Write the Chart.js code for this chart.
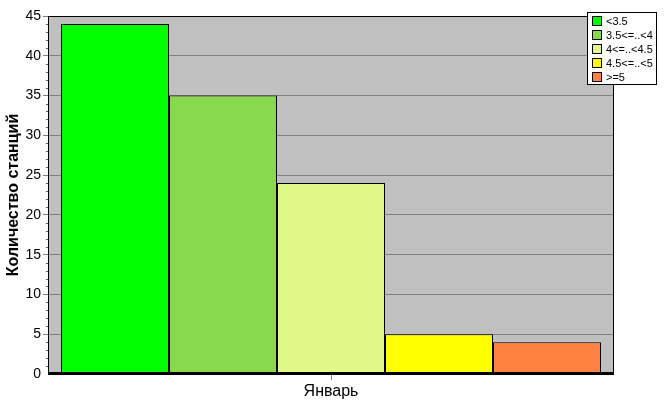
<!DOCTYPE html>
<html>
<head>
<meta charset="utf-8">
<script src="https://cdn.jsdelivr.net/npm/chart.js@4/dist/chart.umd.min.js"></script>
<style>
  html, body { margin: 0; padding: 0; background: #fff; }
  #wrap { width: 667px; height: 415px; }
</style>
</head>
<body>
<div id="wrap"><canvas id="chart" width="667" height="415"></canvas></div>
<script>
const categories = ['Январь']
const seriesNames = ['<3.5', '3.5<=..<4', '4<=..<4.5', '4.5<=..<5', '>=5']
const seriesValues = [44, 35, 24, 5, 4]
const seriesColors = ['#00ff00', '#88d94e', '#e0f888', '#ffff00', '#ff8040']
const yTicks = { min: 0, max: 45, step: 5 }

const FONT = 'Arial, "Liberation Sans", sans-serif'

// grey plot background + black frame, minor ticks on the y axis
const plotFrame = {
  id: 'plotFrame',
  beforeDraw(chart) {
    const { ctx, chartArea: a } = chart
    ctx.save()
    ctx.fillStyle = '#c0c0c0'
    ctx.fillRect(a.left, a.top, a.right - a.left, a.bottom - a.top)
    ctx.restore()
  },
  afterDatasetsDraw(chart) {
    const { ctx, chartArea: a, scales } = chart
    ctx.save()
    ctx.strokeStyle = '#000'
    ctx.lineWidth = 1
    ctx.beginPath()
    ctx.moveTo(a.left + 0.5, a.bottom)
    ctx.lineTo(a.left + 0.5, a.top + 0.5)
    ctx.lineTo(a.right - 0.5, a.top + 0.5)
    ctx.lineTo(a.right - 0.5, a.bottom)
    ctx.stroke()
    ctx.lineWidth = 3
    ctx.beginPath()
    ctx.moveTo(a.left, a.bottom - 0.5)
    ctx.lineTo(a.right, a.bottom - 0.5)
    ctx.stroke()
    // minor ticks
    ctx.strokeStyle = '#606060'
    ctx.lineWidth = 1
    for (let v = yTicks.min; v <= yTicks.max; v++) {
      if (v % yTicks.step === 0) continue
      const y = Math.round(scales.y.getPixelForValue(v)) + 0.5
      ctx.beginPath()
      ctx.moveTo(a.left - 2, y)
      ctx.lineTo(a.left, y)
      ctx.stroke()
    }
    ctx.restore()
  }
}

// boxed legend in the top right corner
const boxLegend = {
  id: 'boxLegend',
  afterDraw(chart) {
    const { ctx } = chart
    const x = 587, y = 12, w = 70, h = 73
    ctx.save()
    ctx.fillStyle = '#fff'
    ctx.fillRect(x, y, w, h)
    ctx.strokeStyle = '#000'
    ctx.lineWidth = 1
    ctx.strokeRect(x + 0.5, y + 0.5, w - 1, h - 1)
    ctx.font = '11px ' + FONT
    ctx.textBaseline = 'middle'
    chart.data.datasets.forEach((ds, i) => {
      const cy = y + 9 + i * 14
      ctx.fillStyle = ds.backgroundColor
      ctx.fillRect(x + 6, cy - 4, 8, 8)
      ctx.strokeRect(x + 5.5, cy - 4.5, 9, 9)
      ctx.fillStyle = '#000'
      ctx.fillText(ds.label, x + 19, cy + 1)
    })
    ctx.restore()
  }
}

new Chart(document.getElementById('chart'), {
  type: 'bar',
  data: {
    labels: categories,
    datasets: seriesNames.map((name, i) => ({
      label: name,
      data: [seriesValues[i]],
      backgroundColor: seriesColors[i],
      borderColor: '#000',
      borderWidth: 1,
      borderSkipped: false,
      barPercentage: 1,
      categoryPercentage: 540 / 566
    }))
  },
  options: {
    responsive: false,
    animation: false,
    layout: { padding: { top: 16, right: 53, left: 0, bottom: 0 } },
    plugins: {
      legend: { display: false },
      tooltip: { enabled: false }
    },
    scales: {
      x: {
        grid: { offset: false, drawOnChartArea: false, tickLength: 6, color: '#808080' },
        border: { display: false },
        ticks: { color: '#000', font: { family: FONT, size: 16 }, padding: 2 },
        afterFit(s) { s.height = 41 }
      },
      y: {
        min: yTicks.min,
        max: yTicks.max,
        ticks: { stepSize: yTicks.step, color: '#000', font: { family: FONT, size: 14 }, padding: 2 },
        grid: {
          tickLength: 5,
          color: c => (c.tick && c.tick.value === 0) ? 'rgba(0,0,0,0)' : '#808080'
        },
        border: { display: false },
        title: {
          display: true,
          text: 'Количество станций',
          color: '#000',
          font: { family: FONT, size: 16, weight: 'bold' },
          padding: { top: 4, bottom: 0 }
        },
        afterFit(s) { s.width = 48 }
      }
    }
  },
  plugins: [plotFrame, boxLegend]
})
</script>
</body>
</html>
